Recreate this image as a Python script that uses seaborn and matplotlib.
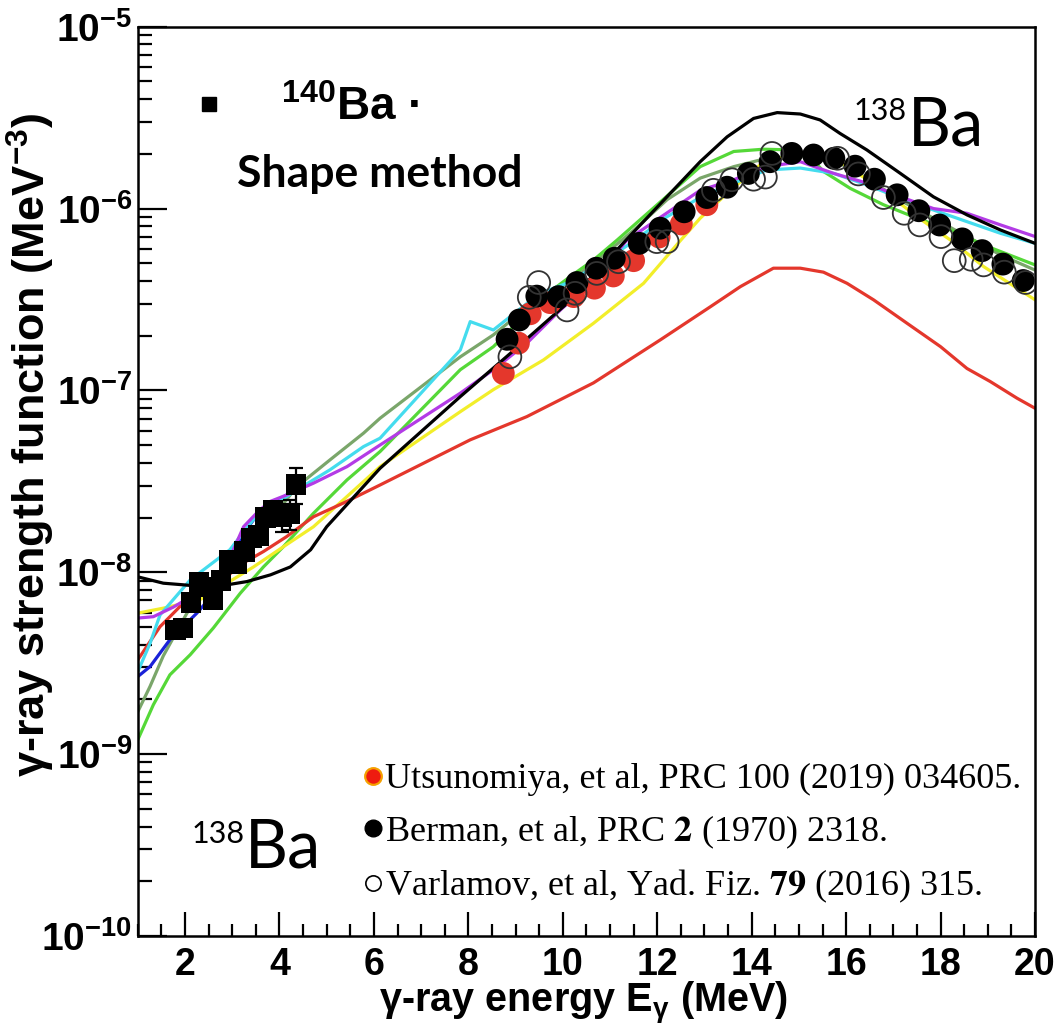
import numpy as np
import pandas as pd
import matplotlib
matplotlib.use("Agg")
import matplotlib.pyplot as plt
import seaborn as sns
from matplotlib.lines import Line2D
from matplotlib.font_manager import FontProperties, fontManager
from matplotlib.ticker import MultipleLocator, LogLocator, NullFormatter, FixedLocator, FixedFormatter

# ---------------- data ----------------
# 140Ba, shape method (black squares)
E_sq = [1.80, 1.96, 2.13, 2.30, 2.47, 2.59, 2.76, 2.93, 3.10, 3.26, 3.41, 3.55, 3.71, 3.86, 4.05, 4.22, 4.35]
S_sq = [4.82e-9, 4.93e-9, 6.83e-9, 8.86e-9, 8.28e-9, 7.11e-9, 9.0e-9, 1.17e-8, 1.12e-8, 1.30e-8,
        1.54e-8, 1.59e-8, 2.0e-8, 2.18e-8, 2.02e-8, 2.11e-8, 3.05e-8]
err_sq = [0, 0, 0, 0, 0, 0, 0, 0, 0, 0, 0, 0, 0, 0.2e-8, 0.35e-8, 0.4e-8, 0.68e-8]

# 138Ba, Utsunomiya et al. (red circles)
E_utsu = [8.74, 9.06, 9.31, 9.73, 10.23, 10.67, 11.07, 11.50, 12.04, 12.51, 13.05]
S_utsu = [1.24e-7, 1.82e-7, 2.64e-7, 3.04e-7, 3.28e-7, 3.65e-7, 4.26e-7, 5.17e-7, 6.98e-7, 8.23e-7, 1.05e-6]

# 138Ba, Berman et al. (black circles)
E_berm = [8.82, 9.08, 9.45, 9.91, 10.30, 10.71, 11.09, 11.62, 12.06, 12.57, 13.05, 13.48, 13.93, 14.39,
          14.85, 15.31, 15.74, 16.19, 16.60, 17.08, 17.54, 17.98, 18.46, 18.88, 19.32, 19.75]
S_berm = [1.91e-7, 2.44e-7, 3.30e-7, 3.28e-7, 3.92e-7, 4.70e-7, 5.33e-7, 6.44e-7, 7.8e-7, 9.6e-7,
          1.15e-6, 1.31e-6, 1.56e-6, 1.81e-6, 2.01e-6, 1.97e-6, 1.89e-6, 1.71e-6, 1.45e-6, 1.19e-6,
          9.73e-7, 8.12e-7, 6.81e-7, 5.87e-7, 4.95e-7, 4.02e-7]

# 138Ba, Varlamov et al. (open circles)
E_varl = [8.88, 9.29, 9.49, 10.09, 10.26, 10.72, 11.18, 11.99, 12.21, 13.19, 13.58, 14.04, 14.29, 14.43,
          15.82, 16.26, 16.79, 17.23, 17.56, 18.01, 18.29, 18.65, 18.91, 19.35, 19.80]
S_varl = [1.53e-7, 3.25e-7, 3.92e-7, 2.77e-7, 3.42e-7, 4.40e-7, 5.10e-7, 6.58e-7, 6.58e-7, 1.26e-6,
          1.44e-6, 1.45e-6, 1.49e-6, 2.01e-6, 1.89e-6, 1.55e-6, 1.15e-6, 9.42e-7, 8.13e-7, 7.01e-7,
          5.17e-7, 5.26e-7, 4.90e-7, 4.47e-7, 3.92e-7]

# model curves
E_black = [1.00, 1.54, 1.97, 2.39, 2.89, 3.31, 3.81, 4.23, 4.66, 5.00, 6.13, 7.83, 8.88, 10.09, 11.50,
           12.91, 13.48, 14.04, 14.54, 15.03, 15.45, 15.87, 16.44, 17.15, 17.85, 18.56, 19.27, 20.0]
S_black = [9.44e-9, 8.71e-9, 8.53e-9, 8.34e-9, 8.53e-9, 8.89e-9, 9.68e-9, 1.07e-8, 1.33e-8, 1.78e-8,
           3.73e-8, 9.25e-8, 1.59e-7, 3.01e-7, 7.43e-7, 1.81e-6, 2.48e-6, 3.13e-6, 3.37e-6, 3.31e-6,
           3.07e-6, 2.59e-6, 2.10e-6, 1.56e-6, 1.16e-6, 9.23e-7, 7.62e-7, 6.44e-7]

E_red = [1.00, 1.47, 1.89, 2.25, 2.81, 3.17, 3.66, 4.15, 4.72, 5.35, 6.13, 8.04, 9.24, 10.65, 12.07,
         13.13, 13.76, 14.46, 15.03, 15.52, 16.02, 16.58, 17.29, 18.00, 18.56, 19.05, 19.62, 20.0]
S_red = [3.30e-9, 5.02e-9, 6.47e-9, 7.34e-9, 9.08e-9, 1.10e-8, 1.30e-8, 1.57e-8, 2.02e-8, 2.40e-8,
         3.02e-8, 5.35e-8, 7.18e-8, 1.10e-7, 1.90e-7, 2.89e-7, 3.72e-7, 4.70e-7, 4.70e-7, 4.47e-7,
         3.88e-7, 3.15e-7, 2.34e-7, 1.74e-7, 1.32e-7, 1.12e-7, 9.06e-8, 7.98e-8]

E_yellow = [1.00, 1.54, 2.32, 3.45, 4.08, 4.72, 5.43, 6.13, 7.83, 8.53, 9.59, 10.65, 11.71, 12.50,
            12.91, 13.55, 14.18, 14.82, 15.35, 15.87, 16.79, 17.50, 18.21, 18.91, 20.0]
S_yellow = [5.96e-9, 6.35e-9, 7.08e-9, 1.07e-8, 1.38e-8, 1.78e-8, 2.61e-8, 3.81e-8, 7.64e-8, 1.01e-7,
            1.47e-7, 2.34e-7, 3.88e-7, 6.71e-7, 8.85e-7, 1.26e-6, 1.74e-6, 1.97e-6, 2.05e-6, 1.81e-6,
            1.26e-6, 9.02e-7, 6.71e-7, 4.80e-7, 3.15e-7]

E_magenta = [1.00, 1.33, 1.75, 2.25, 2.60, 2.93, 3.24, 3.55, 3.80, 4.15, 4.72, 5.43, 6.13, 7.83, 8.53,
             9.24, 9.95, 10.65, 11.36, 12.91, 13.62, 14.32, 15.03, 15.74, 16.44, 17.15, 17.85, 18.56,
             19.27, 20.0]
S_magenta = [5.60e-9, 5.70e-9, 6.43e-9, 7.67e-9, 8.53e-9, 1.17e-8, 1.78e-8, 2.16e-8, 2.45e-8, 2.66e-8,
             3.09e-8, 3.81e-8, 5.01e-8, 9.66e-8, 1.30e-7, 1.82e-7, 2.77e-7, 4.05e-7, 6.71e-7, 1.26e-6,
             1.44e-6, 1.70e-6, 1.81e-6, 1.56e-6, 1.38e-6, 1.16e-6, 1.00e-6, 9.42e-7, 8.13e-7, 7.02e-7]

E_cyan = [1.00, 1.26, 1.47, 2.11, 2.95, 3.44, 3.87, 4.37, 5.07, 5.78, 6.13, 7.83, 8.04, 8.53, 9.50,
          10.10, 10.80, 11.50, 12.20, 12.91, 13.62, 14.32, 15.03, 15.74, 16.44, 17.15, 17.85, 18.56,
          19.27, 20.0]
S_cyan = [2.84e-9, 4.07e-9, 5.82e-9, 9.08e-9, 1.33e-8, 1.94e-8, 2.34e-8, 2.84e-8, 3.66e-8, 4.91e-8,
          5.46e-8, 1.67e-7, 2.39e-7, 2.15e-7, 3.40e-7, 3.90e-7, 5.00e-7, 6.60e-7, 9.00e-7, 1.15e-6,
          1.38e-6, 1.63e-6, 1.67e-6, 1.56e-6, 1.35e-6, 1.14e-6, 9.82e-7, 8.47e-7, 7.31e-7, 6.44e-7]

E_blue = [1.00, 1.26, 1.68, 2.25, 2.74, 2.95, 3.24, 3.45, 3.80, 4.15]
S_blue = [2.67e-9, 3.03e-9, 4.26e-9, 5.96e-9, 8.34e-9, 1.07e-8, 1.64e-8, 1.94e-8, 2.34e-8, 2.66e-8]

E_lime = [1.00, 1.33, 1.68, 2.11, 2.60, 3.17, 3.66, 4.08, 4.72, 5.43, 6.13, 7.83, 8.53, 9.03, 9.59,
          10.16, 10.65, 11.15, 12.00, 12.91, 13.62, 14.25, 14.89, 15.24, 15.52, 16.09, 16.79, 17.50,
          18.21, 18.91, 20.0]
S_lime = [1.20e-9, 1.87e-9, 2.73e-9, 3.52e-9, 4.94e-9, 7.67e-9, 1.07e-8, 1.38e-8, 2.11e-8, 3.22e-8,
          4.61e-8, 1.30e-7, 1.74e-7, 2.34e-7, 3.28e-7, 4.23e-7, 5.21e-7, 6.71e-7, 1.05e-6, 1.70e-6,
          2.06e-6, 2.12e-6, 2.10e-6, 1.93e-6, 1.60e-6, 1.29e-6, 1.05e-6, 8.85e-7, 7.62e-7, 6.31e-7,
          4.90e-7]

E_olive = [1.00, 1.26, 1.54, 2.04, 2.60, 3.38, 4.37, 5.07, 5.78, 6.13, 7.83, 8.53, 9.31, 10.09, 10.80,
           11.50, 12.21, 12.91, 13.62, 14.32, 15.03, 15.74, 16.44, 17.15, 17.85, 18.56, 19.27, 20.0]
S_olive = [1.71e-9, 2.36e-9, 3.47e-9, 5.96e-9, 9.08e-9, 1.41e-8, 2.96e-8, 4.15e-8, 5.82e-8, 7.03e-8,
           1.53e-7, 2.02e-7, 2.95e-7, 3.89e-7, 5.37e-7, 7.59e-7, 1.12e-6, 1.47e-6, 1.70e-6, 1.89e-6,
           1.95e-6, 1.85e-6, 1.47e-6, 1.11e-6, 8.85e-7, 7.02e-7, 5.56e-7, 4.59e-7]

x_ticks = [2, 4, 6, 8, 10, 12, 14, 16, 18, 20]
x_ticklabels = ["2", "4", "6", "8", "10", "12", "14", "16", "18", "20"]
y_ticks = [1e-10, 1e-9, 1e-8, 1e-7, 1e-6, 1e-5]
y_ticklabels = ["$10^{-10}$", "$10^{-9}$", "$10^{-8}$", "$10^{-7}$", "$10^{-6}$", "$10^{-5}$"]

legend_labels = ["Utsunomiya, et al, PRC 100 (2019) 034605.",
                 r"Berman, et al, PRC $\mathbf{2}$ (1970) 2318.",
                 r"Varlamov, et al, Yad. Fiz. $\mathbf{79}$ (2016) 315."]

# ---------------- style ----------------
sns.set_theme(style="white")
avail = {f.name for f in fontManager.ttflist}
SANS = "Liberation Sans"
NARROW = "Liberation Sans Narrow" if "Liberation Sans Narrow" in avail else SANS
CAL = "Lato" if "Lato" in avail else "DejaVu Sans"
SERIF = "Liberation Serif"
plt.rcParams.update({
    "font.family": [SANS, "DejaVu Sans"],
    "font.weight": "bold",
    "text.color": "black",
    "axes.labelcolor": "black",
    "xtick.color": "black",
    "ytick.color": "black",
    "mathtext.fontset": "custom",
    "mathtext.rm": "Liberation Sans:bold",
    "mathtext.it": "Liberation Sans:bold:italic",
    "mathtext.bf": "Liberation Sans:bold",
    "mathtext.default": "rm",
    "axes.edgecolor": "black",
    "axes.linewidth": 1.8,
})

W, H = 1060, 1036
def fx(px):
    return px / W
def fy(py):
    return 1 - py / H

fig = plt.figure(figsize=(W / 100, H / 100), dpi=100)
ax = fig.add_axes([fx(137.8), fy(936), fx(1035) - fx(137.8), fy(26.7) - fy(936)])

palette = {"olive": "#7aa66a", "lime": "#55d838", "yellow": "#f2ee2a", "red": "#e4372c",
           "blue": "#1a22d8", "cyan": "#44dcee", "magenta": "#b33be6", "black": "#000000"}
order = ["olive", "lime", "yellow", "red", "blue", "cyan", "magenta", "black"]
series = {"olive": (E_olive, S_olive), "lime": (E_lime, S_lime), "yellow": (E_yellow, S_yellow),
          "red": (E_red, S_red), "blue": (E_blue, S_blue), "cyan": (E_cyan, S_cyan),
          "magenta": (E_magenta, S_magenta), "black": (E_black, S_black)}
curves = pd.concat([pd.DataFrame({"E": e, "S": s, "model": k}) for k, (e, s) in series.items()],
                   ignore_index=True)

ax.set_yscale("log")
sns.lineplot(data=curves, x="E", y="S", hue="model", hue_order=order, palette=palette,
             estimator=None, sort=False, linewidth=2.3, legend=False, ax=ax)

sns.scatterplot(x=E_utsu, y=S_utsu, color="#e4372c", s=270, edgecolor="none", ax=ax, zorder=3, legend=False)
sns.scatterplot(x=E_berm, y=S_berm, color="black", s=270, edgecolor="none", ax=ax, zorder=4, legend=False)
sns.scatterplot(x=E_varl, y=S_varl, facecolor="none", edgecolor="#333333", linewidth=1.3, s=270,
                ax=ax, zorder=5, legend=False)

E_sq_a, S_sq_a, err_a = np.array(E_sq), np.array(S_sq), np.array(err_sq)
m = err_a > 0
ax.errorbar(E_sq_a[m], S_sq_a[m], yerr=err_a[m], fmt="none", ecolor="black", elinewidth=1.6,
            capsize=5, capthick=1.6, zorder=6)
sns.scatterplot(x=E_sq, y=S_sq, marker="s", color="black", s=220, edgecolor="none", ax=ax,
                zorder=7, legend=False)

# axes
ax.set_xlim(1, 20)
ax.set_ylim(1e-10, 1e-5)
ax.xaxis.set_major_locator(FixedLocator(x_ticks))
ax.xaxis.set_major_formatter(FixedFormatter(x_ticklabels))
ax.xaxis.set_minor_locator(MultipleLocator(0.5))
ax.yaxis.set_major_locator(FixedLocator(y_ticks))
ax.yaxis.set_major_formatter(FixedFormatter(y_ticklabels))
ax.yaxis.set_minor_locator(LogLocator(base=10, subs=np.arange(2, 10)))
ax.yaxis.set_minor_formatter(NullFormatter())
ax.tick_params(axis="both", which="both", direction="in", bottom=True, left=True, top=False,
               right=False, color="black", width=1.6, labelcolor="black")
ax.tick_params(axis="y", which="major", length=21, labelsize=28, pad=4)
ax.tick_params(axis="y", which="minor", length=10)
ax.tick_params(axis="x", which="major", length=17, labelsize=27, pad=8)
ax.tick_params(axis="x", which="minor", length=9)
for lab in ax.get_xticklabels() + ax.get_yticklabels():
    lab.set_fontweight("bold")
for sp in ax.spines.values():
    sp.set_visible(True)
    sp.set_linewidth(1.8)
    sp.set_color("black")
ax.grid(False)

ax.set_xlabel("γ-ray energy E$_{γ}$ (MeV)", fontsize=28.5, fontweight="bold", color="black",
              family=[NARROW, "DejaVu Sans"])
ax.set_ylabel("γ-ray strength function (MeV$^{-3}$)", fontsize=32.5, fontweight="bold", color="black",
              family=[NARROW, "DejaVu Sans"])
ax.xaxis.set_label_coords((583 - 137.8) / 897.2, -(980 - 936) / 909.3)
ax.yaxis.set_label_coords(-(137.8 - 57) / 897.2, 0.540)

# legend of the 138Ba data
handles = [
    Line2D([], [], ls="none", marker="o", ms=12, mfc="#ee1c10", mec="#f5a000", mew=1.6),
    Line2D([], [], ls="none", marker="o", ms=12, mfc="black", mec="black"),
    Line2D([], [], ls="none", marker="o", ms=11, mfc="white", mec="black", mew=1.2),
]
leg_prop = FontProperties(family=SERIF, size=26, weight="normal", math_fontfamily="stix")
leg1 = fig.legend(handles, legend_labels, loc="upper left", bbox_to_anchor=(fx(362), fy(763)),
                  prop=leg_prop, frameon=False, borderpad=0, borderaxespad=0,
                  handlelength=0.6, handletextpad=0.05, labelspacing=0.47)

# key for the 140Ba data
key_prop = FontProperties(family=SANS, size=33, weight="bold", math_fontfamily="custom")
leg2 = fig.legend([Line2D([], [], ls="none", marker="s", ms=10, mfc="black", mec="black")],
                  ["$^{140}$Ba ·"], loc="upper left", bbox_to_anchor=(fx(201), fy(86)),
                  prop=key_prop, frameon=False, borderpad=0, borderaxespad=0,
                  handlelength=0.35, handletextpad=1.40)

fig.text(fx(237), fy(187), "Shape method", family=CAL, fontweight="bold", fontsize=32, va="baseline")

# nucleus labels
fig.text(fx(854), fy(120), "138", family=CAL, fontweight="normal", fontsize=22, va="baseline")
fig.text(fx(908), fy(145), "Ba", family=CAL, fontweight="normal", fontsize=48, va="baseline")
fig.text(fx(192), fy(843), "138", family=CAL, fontweight="normal", fontsize=22, va="baseline")
fig.text(fx(245), fy(868), "Ba", family=CAL, fontweight="normal", fontsize=48, va="baseline")

fig.savefig("out.png", dpi=100, facecolor="white")
